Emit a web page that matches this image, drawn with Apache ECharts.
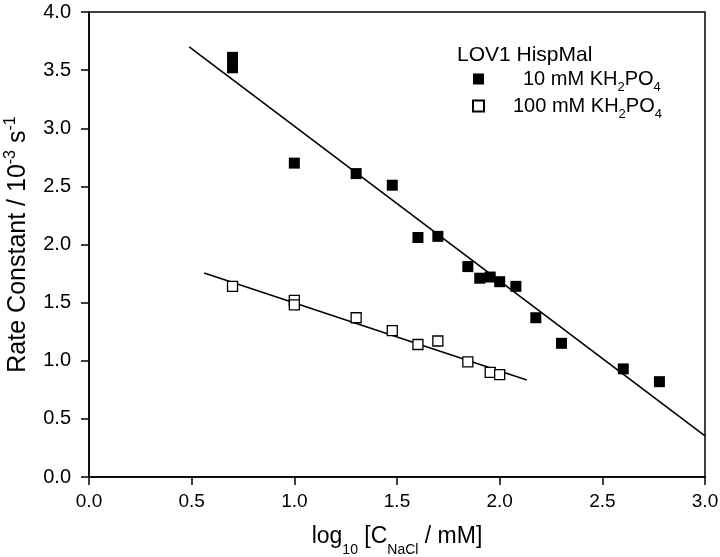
<!DOCTYPE html>
<html><head><meta charset="utf-8">
<script src="https://cdn.jsdelivr.net/npm/echarts/dist/echarts.min.js"></script>
<style>html,body{margin:0;padding:0;background:#fff}#c{width:720px;height:557px}</style>
</head><body><div id="c"></div>
<script>
// ---- data ----
const xTicks = [0.0, 0.5, 1.0, 1.5, 2.0, 2.5, 3.0];
const yTicks = [0.0, 0.5, 1.0, 1.5, 2.0, 2.5, 3.0, 3.5, 4.0];

const mM10_x = [0.699, 0.699, 1.000, 1.301, 1.477, 1.602, 1.699, 1.845, 1.903, 1.954, 2.000, 2.079, 2.176, 2.301, 2.602, 2.778];
const mM10_y = [3.61, 3.52, 2.70, 2.61, 2.51, 2.06, 2.07, 1.81, 1.71, 1.72, 1.68, 1.64, 1.37, 1.15, 0.93, 0.82];

const mM100_x = [0.699, 1.000, 1.000, 1.301, 1.477, 1.602, 1.699, 1.845, 1.954, 2.000];
const mM100_y = [1.64, 1.52, 1.48, 1.37, 1.26, 1.14, 1.17, 0.99, 0.90, 0.88];

const fit10_x = [0.488, 3.0];
const fit10_y = [3.70, 0.353];
const fit100_x = [0.561, 2.132];
const fit100_y = [1.755, 0.834];

const legendTitle = 'LOV1 HispMal';
const seriesNames = ['10 mM', '100 mM'];

// ---- chart ----
const FONT = '"Liberation Sans", Arial, sans-serif';
const zip = (xs, ys) => xs.map((x, i) => [x, ys[i]]);
const chart = echarts.init(document.getElementById('c'), null, {renderer: 'canvas'});

chart.setOption({
  backgroundColor: '#fff',
  animation: false,
  textStyle: {fontFamily: FONT, color: '#000'},
  title: {
    text: legendTitle, left: 457, top: 45, padding: 0,
    textStyle: {fontFamily: FONT, fontSize: 21, fontWeight: 'normal', color: '#000'}
  },
  legend: {
    orient: 'vertical', left: 472, top: 69, padding: 0,
    itemWidth: 11, itemHeight: 11, itemGap: 2,
    icon: 'rect',
    data: seriesNames,
    formatter: function (name) {
      const sp = name === '10 mM' ? '{sp2| }' : '{sp1| }';
      return sp + '{t|' + name + ' KH}{s|2}{t|PO}{s|4}';
    },
    textStyle: {
      fontFamily: FONT, color: '#000',
      rich: {
        sp1: {width: 24, fontSize: 20},
        sp2: {width: 34, fontSize: 20},
        t: {fontSize: 20, fontFamily: FONT, color: '#000'},
        s: {fontSize: 13, fontFamily: FONT, color: '#000', verticalAlign: 'bottom', lineHeight: 30}
      }
    }
  },
  grid: {left: 89, right: 15, top: 12, bottom: 80, show: true, borderColor: '#000', borderWidth: 1.5, backgroundColor: 'transparent', containLabel: false, outerBoundsMode: 'none'},
  xAxis: {
    type: 'value', min: xTicks[0], max: xTicks[xTicks.length - 1], interval: 0.5,
    axisLine: {show: true, onZero: false, lineStyle: {color: '#000', width: 1.5}},
    axisTick: {show: true, inside: false, length: 8, lineStyle: {color: '#000', width: 1.5}},
    axisLabel: {fontSize: 19, fontFamily: FONT, color: '#000', margin: 15, formatter: v => v.toFixed(1)},
    splitLine: {show: false},
    name: '{t|log}{s|10}{t| [C}{s|NaCl}{t| / mM]}',
    nameLocation: 'middle', nameGap: 40,
    nameTextStyle: {
      rich: {
        t: {fontSize: 23, fontFamily: FONT, color: '#000'},
        s: {fontSize: 14, fontFamily: FONT, color: '#000', verticalAlign: 'bottom', lineHeight: 40}
      }
    }
  },
  yAxis: {
    type: 'value', min: yTicks[0], max: yTicks[yTicks.length - 1], interval: 0.5,
    axisLine: {show: true, onZero: false, lineStyle: {color: '#000', width: 1.5}},
    axisTick: {show: true, inside: false, length: 8, lineStyle: {color: '#000', width: 1.5}},
    axisLabel: {fontSize: 20, fontFamily: FONT, color: '#000', margin: 18, formatter: v => v.toFixed(1)},
    splitLine: {show: false},
    name: '{t|Rate Constant / 10}{u|-3}{t| s}{u|-1}',
    nameLocation: 'middle', nameGap: 58,
    nameTextStyle: {
      rich: {
        t: {fontSize: 25, fontFamily: FONT, color: '#000', verticalAlign: 'bottom'},
        u: {fontSize: 16, fontFamily: FONT, color: '#000', verticalAlign: 'top', lineHeight: 28}
      }
    }
  },
  series: [
    {
      type: 'line', data: zip(fit10_x, fit10_y), symbol: 'none', silent: true, z: 1,
      lineStyle: {color: '#000', width: 1.6}
    },
    {
      type: 'line', data: zip(fit100_x, fit100_y), symbol: 'none', silent: true, z: 1,
      lineStyle: {color: '#000', width: 1.6}
    },
    {
      name: seriesNames[0], type: 'scatter', data: zip(mM10_x, mM10_y),
      symbol: 'rect', symbolSize: 11, z: 3,
      itemStyle: {color: '#000', opacity: 1}
    },
    {
      name: seriesNames[1], type: 'scatter', data: zip(mM100_x, mM100_y),
      symbol: 'rect', symbolSize: 10, z: 3,
      itemStyle: {color: '#fff', borderColor: '#000', borderWidth: 1.3, opacity: 1}
    }
  ]
});
</script>
</body></html>
